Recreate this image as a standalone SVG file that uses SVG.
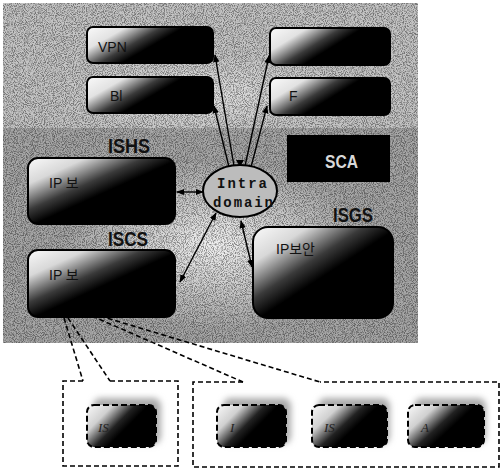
<svg xmlns="http://www.w3.org/2000/svg" width="500" height="470" viewBox="0 0 500 470">
<defs>
<style>
.box{stroke:#000;stroke-width:2;fill:url(#bg1)}
.lbl{font-family:"Liberation Sans Narrow","Liberation Sans",Arial,sans-serif;font-weight:bold;font-size:21px;fill:#111}
.in{font-family:"Liberation Sans","Noto Sans CJK KR",sans-serif;font-size:14px;fill:#111}
.conn{stroke:#000;stroke-width:1.4;fill:none}
.dash{stroke:#000;stroke-width:1.6;fill:none;stroke-dasharray:5,3}
.sm{font-family:"Liberation Serif",serif;font-style:italic;font-size:13px;fill:#222}
.small{fill:url(#bg3);stroke:#000;stroke-width:2;stroke-dasharray:6,3}
</style>
<linearGradient id="bg1" x1="0" y1="0" x2="1" y2="0.5">
<stop offset="0" stop-color="#fafafa"/>
<stop offset="0.25" stop-color="#e2e2e2"/>
<stop offset="0.48" stop-color="#3a3a3a"/>
<stop offset="0.62" stop-color="#000"/>
<stop offset="1" stop-color="#000"/>
</linearGradient>
<linearGradient id="bg2" x1="0" y1="0" x2="0.9" y2="0.9">
<stop offset="0" stop-color="#fafafa"/>
<stop offset="0.22" stop-color="#d8d8d8"/>
<stop offset="0.44" stop-color="#3a3a3a"/>
<stop offset="0.58" stop-color="#000"/>
<stop offset="1" stop-color="#000"/>
</linearGradient>
<linearGradient id="bg3" x1="0" y1="0" x2="1" y2="0.6">
<stop offset="0" stop-color="#fafafa"/>
<stop offset="0.28" stop-color="#d0d0d0"/>
<stop offset="0.52" stop-color="#222"/>
<stop offset="0.66" stop-color="#000"/>
<stop offset="1" stop-color="#000"/>
</linearGradient>
<radialGradient id="glow" cx="0.5" cy="0.5" r="0.5">
<stop offset="0" stop-color="#f2f2f2"/>
<stop offset="1" stop-color="#f2f2f2" stop-opacity="0"/>
</radialGradient>
<filter id="noise" x="0" y="0" width="1" height="1">
<feTurbulence type="fractalNoise" baseFrequency="1.1" numOctaves="1" seed="3" result="n"/>
<feColorMatrix in="n" type="matrix" values="0 0 0 0 0  0 0 0 0 0  0 0 0 0 0  4 0 0 0 -1.7"/>
</filter>
<filter id="blur" x="-30%" y="-30%" width="160%" height="160%">
<feGaussianBlur stdDeviation="3"/>
</filter>
<marker id="ah" viewBox="0 0 10 10" refX="9" refY="5" markerWidth="8" markerHeight="8" orient="auto-start-reverse" markerUnits="userSpaceOnUse">
<path d="M0,1 L10,5 L0,9 Z" fill="#000"/>
</marker>
</defs>

<g id="background">
<rect x="3" y="3" width="415" height="340" fill="#c4c4c4"/>
<rect x="3" y="128" width="415" height="215" fill="#a6a6a6"/>
<ellipse cx="215" cy="245" rx="150" ry="85" fill="url(#glow)"/>
<ellipse cx="200" cy="95" rx="150" ry="40" fill="url(#glow)" opacity="0.6"/>
<rect x="3" y="3" width="415" height="340" fill="#000" filter="url(#noise)" opacity="0.4"/>
</g>

<g id="connectors">
<line class="conn" x1="234" y1="166" x2="215" y2="55" marker-end="url(#ah)"/>
<line class="conn" x1="229" y1="167" x2="214" y2="106" marker-end="url(#ah)"/>
<line class="conn" x1="245" y1="166" x2="269" y2="56" marker-end="url(#ah)"/>
<line class="conn" x1="251" y1="167" x2="267" y2="106" marker-end="url(#ah)"/>
<line class="conn" x1="177" y1="192" x2="203" y2="192" marker-start="url(#ah)" marker-end="url(#ah)"/>
<line class="conn" x1="180" y1="282" x2="216" y2="213" marker-start="url(#ah)" marker-end="url(#ah)"/>
<line class="conn" x1="241" y1="221" x2="252" y2="267" marker-start="url(#ah)" marker-end="url(#ah)"/>
<path d="M236,160 L244,160 L240,167 Z" fill="#000"/>
<line class="dash" x1="64" y1="318" x2="83" y2="381"/>
<line class="dash" x1="68" y1="318" x2="110" y2="381"/>
<line class="dash" x1="92" y1="316" x2="243" y2="382"/>
<line class="dash" x1="100" y1="316" x2="320" y2="382"/>
</g>

<g id="vpn">
<rect class="box" x="87" y="27" width="126" height="36" rx="6"/>
<text class="in" x="98" y="52">VPN</text>
</g>
<g id="bl">
<rect class="box" x="87" y="77" width="126" height="36" rx="6"/>
<text class="in" x="110" y="101">Bl</text>
</g>
<g id="tr">
<rect class="box" x="270" y="28" width="120" height="37" rx="6"/>
</g>
<g id="f">
<rect class="box" x="270" y="78" width="120" height="37" rx="6"/>
<text class="in" x="289" y="101">F</text>
</g>

<g id="isca">
<rect x="287" y="135" width="103" height="47" fill="#000"/>
<text x="325" y="168" font-family="'Liberation Sans Narrow','Liberation Sans',sans-serif" font-weight="bold" font-size="19" fill="#d8d8d8" textLength="33" lengthAdjust="spacingAndGlyphs">SCA</text>
</g>

<g id="ishs">
<text class="lbl" x="108" y="153" textLength="42" lengthAdjust="spacingAndGlyphs">ISHS</text>
<rect class="box" x="28" y="158" width="147" height="66" rx="10" style="fill:url(#bg2)"/>
<text class="in" x="49" y="188" font-size="17">IP 보</text>
</g>

<g id="iscs">
<text class="lbl" x="108" y="246" textLength="40" lengthAdjust="spacingAndGlyphs">ISCS</text>
<rect class="box" x="28" y="250" width="147" height="67" rx="10" style="fill:url(#bg2)"/>
<text class="in" x="49" y="280" font-size="17">IP 보</text>
</g>

<g id="isgs">
<text class="lbl" x="333" y="222" textLength="40" lengthAdjust="spacingAndGlyphs">ISGS</text>
<rect class="box" x="253" y="227" width="140" height="91" rx="15" style="fill:url(#bg2)"/>
<text class="in" x="276" y="254" font-size="15">IP보안</text>
</g>

<g id="intra">
<ellipse cx="240" cy="191" rx="37" ry="26" fill="#bcbcbc" stroke="#000" stroke-width="2"/>
<text x="217" y="188" font-family="'Liberation Mono',monospace" font-weight="bold" font-size="14" fill="#111" textLength="50" lengthAdjust="spacing">Intra</text>
<text x="213" y="207" font-family="'Liberation Mono',monospace" font-weight="bold" font-size="14" fill="#111" textLength="60" lengthAdjust="spacing">domain</text>
</g>

<g id="group-left">
<path class="dash" d="M83,381 L63,381 L63,466 L178,466 L178,381 L110,381"/>
</g>
<g id="group-right">
<path class="dash" d="M243,382 L193,382 L193,467 L499,467 L499,382 L320,382"/>
</g>

<g id="s1">
<rect x="93" y="398" width="68" height="46" rx="8" fill="#aaa" filter="url(#blur)"/>
<rect class="small" x="87" y="405" width="69" height="42" rx="7"/>
<text class="sm" x="98" y="432">IS</text>
</g>
<g id="s2">
<rect x="223" y="398" width="68" height="46" rx="8" fill="#aaa" filter="url(#blur)"/>
<rect class="small" x="217" y="405" width="69" height="42" rx="7"/>
<text class="sm" x="230" y="432">I</text>
</g>
<g id="s3">
<rect x="318" y="398" width="72" height="46" rx="8" fill="#aaa" filter="url(#blur)"/>
<rect class="small" x="312" y="405" width="75" height="42" rx="7"/>
<text class="sm" x="324" y="432">IS</text>
</g>
<g id="s4">
<rect x="414" y="398" width="72" height="46" rx="8" fill="#aaa" filter="url(#blur)"/>
<rect class="small" x="408" y="405" width="76" height="42" rx="7"/>
<text class="sm" x="421" y="432">A</text>
</g>
</svg>
